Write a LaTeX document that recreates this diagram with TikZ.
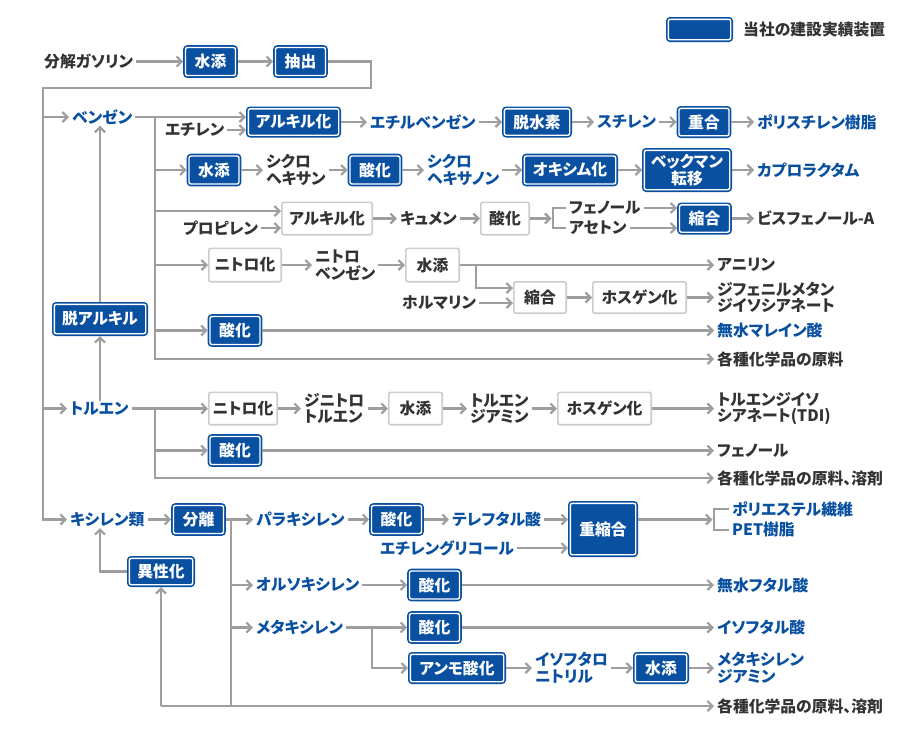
\documentclass[tikz,border=0pt]{standalone}
\usepackage{fontspec}
\setmainfont{Noto Sans CJK JP}[RawFeature={+palt}]
\usetikzlibrary{arrows.meta}
\definecolor{jblue}{HTML}{0A50A1}
\definecolor{ink}{HTML}{333333}
\definecolor{pipegray}{HTML}{9E9E9E}
\definecolor{boxgray}{HTML}{CCCCCC}
\newcommand{\flowfont}{\fontsize{15.8}{16.5}\selectfont\bfseries}

\begin{document}
\begin{tikzpicture}
  [x=1pt, y=-1pt,
   plant/.style={fill=jblue, draw=jblue, double=white, double distance=1.4pt, line width=1.6pt,
     rounded corners=2pt, text=white, font=\flowfont, inner xsep=2pt, inner ysep=0pt,
     minimum width=50pt, minimum height=28pt, outer sep=2.3pt},
   unit/.style={fill=white, draw=boxgray, line width=1.6pt, rounded corners=2pt, text=ink,
     font=\flowfont, inner xsep=2pt, inner ysep=0pt, minimum height=32.4pt, outer sep=0.8pt},
   prod/.style={anchor=west, inner xsep=3pt, inner ysep=1pt, align=left, font=\flowfont, text=ink},
   bprod/.style={prod, text=jblue},
   pipe/.style={draw=pipegray, line width=2.2pt},
   feed/.style={pipe, -{Straight Barb[length=5pt,width=10pt]}}]

  \useasboundingbox (0,0) rectangle (901,740);

  % legend
  \node[plant, minimum width=62.4pt, minimum height=20.4pt] (key) at (699.5,29.5) {};
  \node[prod] (keytxt) at (740,29.5) {当社の建設実績装置};

  % cracked gasoline
  \node[prod] (gas) at (41,61.5) {分解ガソリン};
  \node[plant] (hyd0) at (210.5,61.5) {水添};
  \node[plant] (ext) at (300.5,61.5) {抽出};
  \coordinate (ret) at (371,88);
  \coordinate (trunk) at (43,88);

  % benzene
  \node[bprod] (bz) at (69,117) {ベンゼン};
  \coordinate (bj) at (155,117);
  \node[prod] (eth) at (162,130) {エチレン};
  \node[plant, minimum width=90.4pt, minimum height=26.4pt] (alk1) at (293.5,122) {アルキル化};
  \node[bprod] (eb) at (367,122) {エチルベンゼン};
  \node[plant, minimum width=65.4pt, minimum height=26.4pt] (dhy) at (537,122) {脱水素};
  \node[bprod] (sty) at (594,122) {スチレン};
  \node[plant, minimum height=27.4pt] (poly) at (704,122) {重合};
  \node[bprod] (ps) at (754,122) {ポリスチレン樹脂};

  \node[plant] (hyd1) at (214,170) {水添};
  \node[prod] (chx) at (263,170) {シクロ\\ヘキサン};
  \node[plant] (ox1) at (375,170) {酸化};
  \node[bprod] (chxo) at (424,170) {シクロ\\ヘキサノン};
  \node[plant, minimum width=91.4pt] (oxim) at (570,170) {オキシム化};
  \node[plant, minimum width=85.4pt, minimum height=39.4pt, align=center] (beck) at (687,170) {ベックマン\\転移};
  \node[bprod] (capro) at (754,170) {カプロラクタム};

  \node[unit, minimum width=90.4pt] (alk2) at (327,218.5) {アルキル化};
  \node[prod] (prop) at (180,228) {プロピレン};
  \node[prod] (cum) at (397,218.5) {キュメン};
  \node[unit, minimum width=48.4pt] (ox7) at (505,218.5) {酸化};
  \coordinate (cb) at (553,218.5);
  \node[prod] (phe1) at (566,208) {フェノール};
  \node[prod] (ace) at (566,228) {アセトン};
  \node[plant, minimum height=27.4pt] (cond1) at (704.5,218.5) {縮合};
  \node[prod] (bpa) at (754,218.5) {ビスフェノール-A};

  \node[unit, minimum width=72.4pt, minimum height=33.4pt] (nit1) at (245,265) {ニトロ化};
  \node[prod] (nb) at (312,265) {ニトロ\\ベンゼン};
  \node[unit, minimum width=53.4pt, minimum height=33.4pt] (hyd2) at (432.5,265) {水添};
  \coordinate (nj) at (476,265);
  \node[prod] (anil) at (714,265) {アニリン};
  \node[prod] (form) at (399,303) {ホルマリン};
  \node[unit, minimum width=52.4pt, minimum height=31.4pt] (cond2) at (540,297.5) {縮合};
  \node[unit, minimum width=93.4pt, minimum height=31.4pt] (phos1) at (639.5,297.5) {ホスゲン化};
  \node[prod] (mdi) at (714,297.5) {ジフェニルメタン\\ジイソシアネート};

  \node[plant] (ox2) at (235,330.5) {酸化};
  \node[bprod] (mal) at (714,330.5) {無水マレイン酸};
  \node[prod] (raw1) at (714,359) {各種化学品の原料};
  \node[plant, minimum width=91.4pt, minimum height=29.4pt] (dealk) at (100,319) {脱アルキル};

  % toluene
  \node[bprod] (tol) at (67,408.5) {トルエン};
  \coordinate (tj) at (155,408.5);
  \node[unit, minimum width=68.4pt] (nit2) at (243,408.5) {ニトロ化};
  \node[prod] (dnt) at (301,408.5) {ジニトロ\\トルエン};
  \node[unit, minimum width=53.4pt] (hyd3) at (415.5,408.5) {水添};
  \node[prod] (tda) at (467,408.5) {トルエン\\ジアミン};
  \node[unit, minimum width=93.4pt] (phos2) at (604.5,408.5) {ホスゲン化};
  \node[prod] (tdi) at (714,408.5) {トルエンジイソ\\シアネート(TDI)};
  \node[plant] (ox3) at (235,450.5) {酸化};
  \node[prod] (phe2) at (714,450.5) {フェノール};
  \node[prod] (raw2) at (714,478) {各種化学品の原料、溶剤};

  % xylenes
  \node[bprod] (xyl) at (67,519.5) {キシレン類};
  \node[plant] (sep) at (198.5,519.5) {分離};
  \coordinate (xj) at (231,519.5);
  \node[bprod] (para) at (253,519.5) {パラキシレン};
  \node[plant] (ox4) at (396.5,519.5) {酸化};
  \node[bprod] (tpa) at (449,519.5) {テレフタル酸};
  \node[bprod] (eg) at (377,548) {エチレングリコール};
  \node[plant, minimum width=65.4pt, minimum height=51.4pt] (pc) at (603,529) {重縮合};
  \coordinate (pb) at (714,519.5);
  \node[bprod] (pes) at (729,509) {ポリエステル繊維};
  \node[bprod] (pet) at (729,530) {PET樹脂};
  \node[plant, minimum width=63.4pt, minimum height=26.4pt] (iso) at (161,571.5) {異性化};
  \coordinate (isoup) at (100,571.5);
  \node[bprod] (ortho) at (253,585) {オルソキシレン};
  \node[plant] (ox5) at (434.5,585) {酸化};
  \node[bprod] (pa) at (714,585) {無水フタル酸};
  \node[bprod] (meta) at (253,627.5) {メタキシレン};
  \coordinate (mj) at (372,627.5);
  \node[plant] (ox6) at (434.5,627.5) {酸化};
  \node[bprod] (ipa) at (714,627.5) {イソフタル酸};
  \node[plant, minimum width=93.4pt, minimum height=27.4pt] (amox) at (457,668) {アンモ酸化};
  \node[bprod] (ipn) at (532,668) {イソフタロ\\ニトリル};
  \node[plant, minimum width=51.4pt, minimum height=27.4pt] (hyd4) at (661,668) {水添};
  \node[bprod] (mxda) at (714,668) {メタキシレン\\ジアミン};
  \node[prod] (raw3) at (714,706) {各種化学品の原料、溶剤};

  % feed and main trunk
  \draw[feed] (gas.east) -- (hyd0.west);
  \draw[feed] (hyd0.east) -- (ext.west);
  \draw[feed] (ext.east) -| (ret) -- (trunk) |- (xyl.west);
  \draw[feed] (trunk |- bz.west) -- (bz.west);
  \draw[feed] (trunk |- tol.west) -- (tol.west);

  % benzene routes
  \draw[feed] (bz.east) -- (alk1.west |- bz.east);
  \draw[feed] (bj) |- (raw1.west);
  \draw[feed] (eth.east) -- (eth.east -| alk1.west);
  \draw[feed] (alk1.east) -- (eb.west);
  \draw[feed] (eb.east) -- (dhy.west);
  \draw[feed] (dhy.east) -- (sty.west);
  \draw[feed] (sty.east) -- (poly.west);
  \draw[feed] (poly.east) -- (ps.west);

  \draw[feed] (bj |- hyd1.west) -- (hyd1.west);
  \draw[feed] (hyd1.east) -- (chx.west);
  \draw[feed] (chx.east) -- (ox1.west);
  \draw[feed] (ox1.east) -- (chxo.west);
  \draw[feed] (chxo.east) -- (oxim.west);
  \draw[feed] (oxim.east) -- (beck.west);
  \draw[feed] (beck.east) -- (capro.west);

  \path ([yshift=7.5pt]alk2.west) coordinate (alk2in);
  \draw[feed] (bj |- alk2in) -- (alk2in);
  \draw[feed] (prop.east) -- (prop.east -| alk2.west);
  \draw[feed] (alk2.east) -- (cum.west);
  \draw[feed] (cum.east) -- (ox7.west);
  \draw[feed, shorten >=1.5pt] (ox7.east) -- (cb);
  \draw[pipe] (phe1.west) -| (cb) |- (ace.west);
  \draw[feed] (phe1.east) -- (phe1.east -| cond1.west);
  \draw[feed] (ace.east) -- (ace.east -| cond1.west);
  \draw[feed] (cond1.east) -- (bpa.west);

  \draw[feed] (bj |- nit1.west) -- (nit1.west);
  \draw[feed] (nit1.east) -- (nb.west);
  \draw[feed] (nb.east) -- (hyd2.west);
  \draw[feed] (hyd2.east) -- (anil.west);
  \path ([yshift=9.5pt]cond2.west) coordinate (cond2in);
  \draw[feed] (nj) |- (cond2in);
  \draw[feed] (form.east) -- (form.east -| cond2.west);
  \draw[feed] (cond2.east) -- (phos1.west);
  \draw[feed] (phos1.east) -- (mdi.west);

  \draw[feed] (bj |- ox2.west) -- (ox2.west);
  \draw[feed] (ox2.east) -- (mal.west);

  % dealkylation
  \draw[feed] (dealk.north) -- (dealk.north |- bz.south);
  \draw[feed] (dealk.south |- tol.north) -- (dealk.south);

  % toluene routes
  \draw[feed] (tol.east) -- (nit2.west);
  \draw[feed] (tj) |- (raw2.west);
  \draw[feed] (nit2.east) -- (dnt.west);
  \draw[feed] (dnt.east) -- (hyd3.west);
  \draw[feed] (hyd3.east) -- (tda.west);
  \draw[feed] (tda.east) -- (phos2.west);
  \draw[feed] (phos2.east) -- (tdi.west);
  \draw[feed] (tj |- ox3.west) -- (ox3.west);
  \draw[feed] (ox3.east) -- (phe2.west);

  % xylene routes
  \draw[feed] (xyl.east) -- (sep.west);
  \draw[feed] (sep.east) -- (para.west);
  \draw[pipe] (xj) -- (xj |- raw3.west);
  \draw[feed] (iso.south |- raw3.west) -- (raw3.west);
  \draw[feed] (iso.south |- raw3.west) -- (iso.south);
  \draw[feed] (iso.west) -| (isoup |- xyl.south);

  \draw[feed] (para.east) -- (ox4.west);
  \draw[feed] (ox4.east) -- (tpa.west);
  \draw[feed] (tpa.east) -- (tpa.east -| pc.west);
  \draw[feed] (eg.east) -- (eg.east -| pc.west);
  \draw[feed, shorten >=1.5pt] (pc.east |- tpa.east) -- (pb);
  \draw[pipe] (pes.west) -| (pb) |- (pet.west);

  \draw[feed] (xj |- ortho.west) -- (ortho.west);
  \draw[feed] (ortho.east) -- (ox5.west);
  \draw[feed] (ox5.east) -- (pa.west);

  \draw[feed] (xj |- meta.west) -- (meta.west);
  \draw[pipe] (meta.east) -- (mj);
  \draw[feed] (mj) -- (ox6.west);
  \draw[feed] (mj) |- (amox.west);
  \draw[feed] (ox6.east) -- (ipa.west);
  \draw[feed] (amox.east) -- (ipn.west);
  \draw[feed] (ipn.east) -- (hyd4.west);
  \draw[feed] (hyd4.east) -- (mxda.west);
\end{tikzpicture}
\end{document}
